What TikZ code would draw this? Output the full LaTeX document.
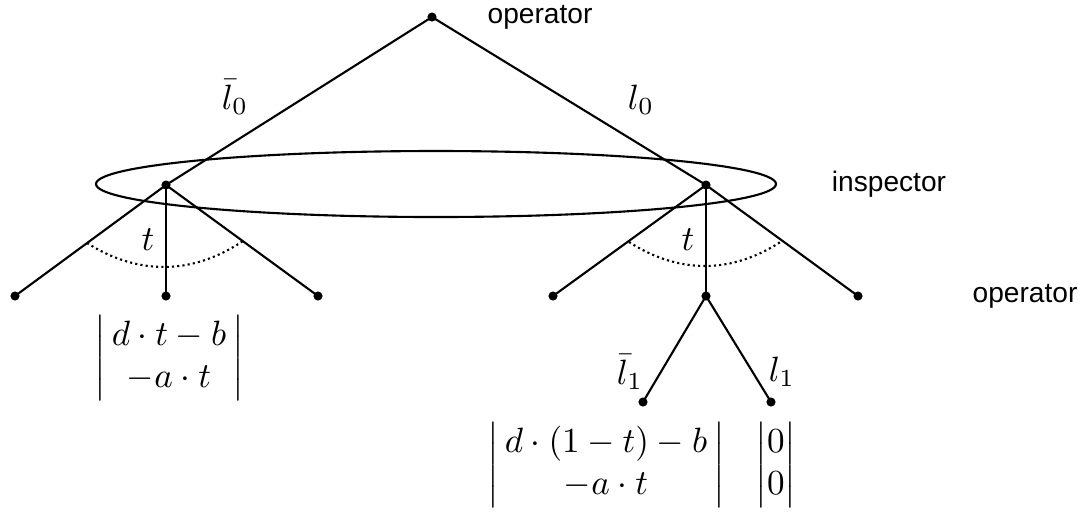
\documentclass[tikz,border=0pt]{standalone}
\usepackage{amsmath}
\usepackage{fontspec}
\setsansfont{Liberation Sans}

\begin{document}
\begin{tikzpicture}[x=0.01cm,y=-0.01cm,line width=0.6pt,line cap=round,line join=round,
  player/.style={font=\fontsize{8}{9.6}\selectfont\sffamily},
  angle/.style={line cap=butt,dash pattern=on 0.6pt off 0.9pt}]
\useasboundingbox (0,0) rectangle (1081,514);
\coordinate (root) at (432,17);
\coordinate (L) at (166,185);
\coordinate (R) at (706,185);
\coordinate (La) at (15,296);
\coordinate (Lb) at (166,296);
\coordinate (Lc) at (318,296);
\coordinate (Ra) at (553,296);
\coordinate (Rb) at (706,296);
\coordinate (Rc) at (858,296);
\coordinate (Rba) at (643,402);
\coordinate (Rbb) at (771,402);
\coordinate (info) at (436,184);
\coordinate (Larc1) at (87,243);
\coordinate (Larc2) at (243,241);
\coordinate (Rarc1) at (629,242);
\coordinate (Rarc2) at (782,241);
\draw (root) -- (L);
\draw (root) -- (R);
\draw (info) ellipse [x radius=340, y radius=33];
\draw (L) -- (La);
\draw (L) -- (Lb);
\draw (L) -- (Lc);
\draw (R) -- (Ra);
\draw (R) -- (Rb);
\draw (R) -- (Rc);
\draw (Rb) -- (Rba);
\draw (Rb) -- (Rbb);
\draw[angle] (Larc1) to[bend right=33] (Larc2);
\draw[angle] (Rarc1) to[bend right=33] (Rarc2);
\fill (root) circle (1.3pt);
\fill (L) circle (1.3pt);
\fill (R) circle (1.3pt);
\fill (La) circle (1.3pt);
\fill (Lb) circle (1.3pt);
\fill (Lc) circle (1.3pt);
\fill (Ra) circle (1.3pt);
\fill (Rb) circle (1.3pt);
\fill (Rc) circle (1.3pt);
\fill (Rba) circle (1.3pt);
\fill (Rbb) circle (1.3pt);
\node[player] (op1) at (540,17) {operator};
\node[player] (insp) at (889,184) {inspector};
\node[player] (op2) at (1025,296) {operator};
\node (lbar0) at (235,97) {$\bar{l}_0$};
\node (l0) at (641,100) {$l_0$};
\node (tL) at (148,240) {$t$};
\node (tR) at (688,240) {$t$};
\node (lbar1) at (630,372) {$\bar{l}_1$};
\node (l1) at (782,372) {$l_1$};
\node (payL) at (169,358) {$\left|\,\begin{matrix} d\cdot t-b\\ -a\cdot t\end{matrix}\,\right|$};
\node (payRa) at (606,465) {$\left|\,\begin{matrix} d\cdot(1-t)-b\\ -a\cdot t\end{matrix}\,\right|$};
\node (payRb) at (776,465) {$\begin{vmatrix} 0\\ 0\end{vmatrix}$};
\end{tikzpicture}
\end{document}
